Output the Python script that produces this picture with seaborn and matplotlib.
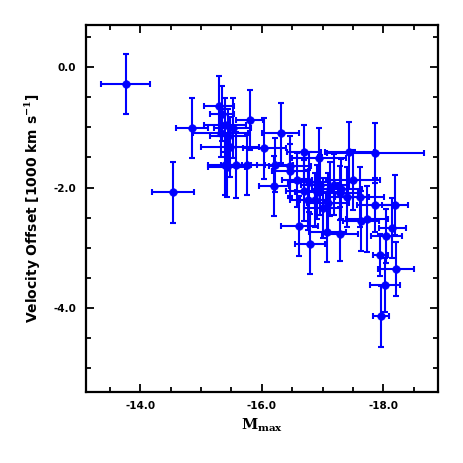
import matplotlib
matplotlib.use("Agg")
import matplotlib.pyplot as plt
from matplotlib.ticker import MultipleLocator, FormatStrFormatter
import seaborn as sns
import pandas as pd

m_max = [-13.76, -14.54, -14.85, -15.30, -15.34, -15.39, -15.52, -15.80, -15.32, -15.48,
         -15.42, -15.58, -15.75, -16.04, -16.31, -16.69, -16.22, -16.46, -16.20, -17.44,
         -17.87, -16.94, -16.58, -16.78, -16.95, -17.12, -17.30, -17.50, -16.76, -16.88,
         -17.00, -17.09, -17.28, -17.41, -17.61, -17.87, -18.19, -16.62, -16.79, -17.08,
         -17.29, -17.73, -17.63, -18.15, -18.05, -17.95, -18.21, -18.03, -17.96, -16.46,
         -16.70, -17.18, -16.90, -15.45, -15.40]
vel_off = [-0.28, -2.08, -1.01, -0.64, -0.77, -0.96, -1.01, -0.88, -1.10, -1.32,
           -1.65, -1.62, -1.63, -1.35, -1.10, -1.41, -1.63, -1.64, -1.97, -1.41,
           -1.43, -1.51, -1.87, -1.91, -1.96, -2.03, -2.02, -1.87, -2.20, -2.20,
           -2.34, -2.26, -2.09, -2.15, -2.15, -2.29, -2.29, -2.64, -2.94, -2.74,
           -2.77, -2.52, -2.56, -2.67, -2.81, -3.12, -3.35, -3.62, -4.14, -1.73,
           -2.05, -1.95, -2.08, -1.15, -1.62]
m_err = [0.40, 0.34, 0.27, 0.25, 0.20, 0.35, 0.30, 0.22, 0.45, 0.48,
         0.30, 0.25, 0.30, 0.35, 0.30, 0.28, 0.30, 0.35, 0.25, 0.40,
         0.80, 0.45, 0.25, 0.35, 0.30, 0.30, 0.35, 0.45, 0.30, 0.25,
         0.30, 0.35, 0.30, 0.35, 0.40, 0.30, 0.21, 0.30, 0.25, 0.30,
         0.30, 0.35, 0.30, 0.22, 0.25, 0.12, 0.29, 0.25, 0.13, 0.30,
         0.30, 0.25, 0.35, 0.30, 0.28]
v_err = [0.50, 0.50, 0.50, 0.50, 0.45, 0.45, 0.50, 0.50, 0.40, 0.50,
         0.50, 0.55, 0.50, 0.50, 0.50, 0.45, 0.45, 0.50, 0.50, 0.50,
         0.50, 0.50, 0.45, 0.50, 0.50, 0.45, 0.50, 0.50, 0.50, 0.45,
         0.50, 0.50, 0.45, 0.50, 0.50, 0.45, 0.50, 0.50, 0.50, 0.50,
         0.45, 0.55, 0.50, 0.50, 0.45, 0.35, 0.45, 0.45, 0.50, 0.45,
         0.50, 0.50, 0.45, 0.45, 0.50]

df = pd.DataFrame({"m": m_max, "v": vel_off, "me": m_err, "ve": v_err})

sns.set_theme(style="ticks")
plt.rcParams['font.family'] = ['DejaVu Sans']
plt.rcParams['mathtext.fontset'] = 'dejavuserif'
plt.rcParams['axes.labelcolor'] = 'black'
plt.rcParams['text.color'] = 'black'

fig = plt.figure(figsize=(4.63, 4.63), dpi=100)
ax = fig.add_axes([0.185, 0.154, 0.761, 0.792])

blue = "#0000ff"
ax.errorbar(df["m"], df["v"], xerr=df["me"], yerr=df["ve"], fmt="none",
            ecolor=blue, elinewidth=1.5, capsize=2.5, capthick=1.5, zorder=2)
sns.scatterplot(data=df, x="m", y="v", ax=ax, color=blue, s=30,
                edgecolor=blue, linewidth=0.5, zorder=3, legend=False)

ax.set_xlim(-13.1, -18.9)
ax.set_ylim(-5.39, 0.70)
ax.xaxis.set_major_locator(MultipleLocator(2.0))
ax.xaxis.set_minor_locator(MultipleLocator(0.5))
ax.yaxis.set_major_locator(MultipleLocator(2.0))
ax.yaxis.set_minor_locator(MultipleLocator(0.5))
ax.xaxis.set_major_formatter(FormatStrFormatter("%.1f"))
ax.yaxis.set_major_formatter(FormatStrFormatter("%.1f"))

ax.tick_params(which="both", direction="in", top=True, right=True, width=1.3,
               colors="black", labelsize=7.5)
ax.tick_params(which="major", length=6, pad=7)
ax.tick_params(which="minor", length=3.5)
for lbl in ax.get_xticklabels() + ax.get_yticklabels():
    lbl.set_fontweight("bold")
for sp in ax.spines.values():
    sp.set_linewidth(1.6)
    sp.set_color("black")

ax.set_xlabel(r"$\mathbf{M_{max}}$", fontsize=10.5, labelpad=4, color="black")
ax.set_ylabel(r"Velocity Offset [1000 km s$^{\mathbf{-1}}$]", fontsize=10,
              fontweight="bold", labelpad=7, color="black")

fig.savefig("out.png", dpi=100)
